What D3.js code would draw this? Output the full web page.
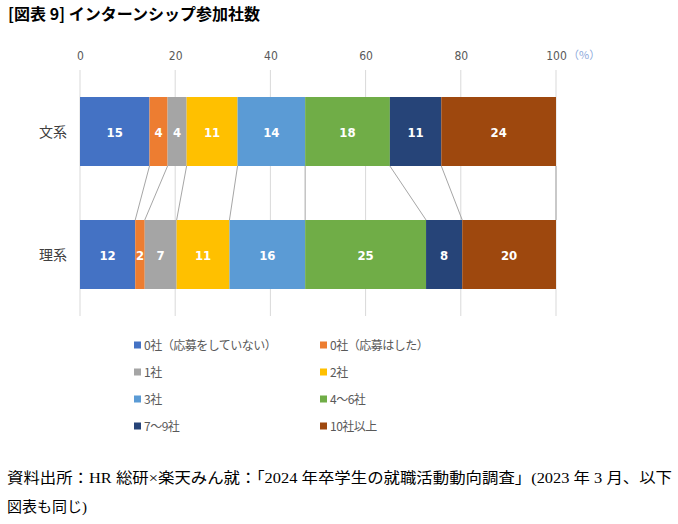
<!DOCTYPE html>
<html><head><meta charset="utf-8">
<script src="https://cdn.jsdelivr.net/npm/d3@7"></script>
<style>
body{margin:0;background:#fff;}
svg{display:block;}
</style></head>
<body>
<script>
const categories = ["文系", "理系"];
const seriesNames = ["0社（応募をしていない）", "0社（応募はした）", "1社", "2社", "3社", "4～6社", "7～9社", "10社以上"];
const bunkei = [14.6, 3.8, 4.0, 10.7, 14.2, 17.8, 10.8, 24.1];
const rikei = [11.6, 2.0, 6.7, 11.1, 15.9, 25.4, 7.6, 19.7];
const tickValues = [0, 20, 40, 60, 80, 100];
const colors = ["#4472C4", "#ED7D31", "#A5A5A5", "#FFC000", "#5B9BD5", "#70AD47", "#264478", "#9E480E"];

const W = 678, H = 524;
const svg = d3.select("body").append("svg").attr("width", W).attr("height", H);

const x = d3.scaleLinear().domain([0, 100]).range([80, 556]);
const y = d3.scaleBand().domain(categories).range([70, 316]).paddingInner(0.439).paddingOuter(0.2195);

const values = {"文系": bunkei, "理系": rikei};
const stacks = categories.map(c => {
  let acc = 0;
  return values[c].map((v, i) => { const s = {cat: c, i, v, x0: acc, x1: acc + v}; acc += v; return s; });
});

// title
svg.append("text").attr("x", 8).attr("y", 20)
  .attr("font-family", "'Noto Sans CJK JP', sans-serif").attr("font-weight", "bold")
  .attr("font-size", 16).attr("fill", "#000").text("[図表 9]  インターンシップ参加社数");

// gridlines
svg.append("g").selectAll("line").data(tickValues).join("line")
  .attr("x1", d => x(d)).attr("x2", d => x(d)).attr("y1", 70).attr("y2", 316)
  .attr("stroke", "#d9d9d9").attr("stroke-width", 1);

// tick labels (top axis)
const axis = d3.axisTop(x).tickValues(tickValues).tickSize(0).tickPadding(0);
const gAxis = svg.append("g").attr("transform", "translate(0,60)").call(axis);
gAxis.select(".domain").remove();
gAxis.selectAll("text").attr("font-family", "'Liberation Sans Narrow', 'DejaVu Sans Condensed', sans-serif")
  .attr("font-size", 12).attr("fill", "#595959");
svg.append("text").attr("x", 568).attr("y", 59).attr("font-family", "'Noto Sans CJK JP', sans-serif")
  .attr("font-size", 11).attr("fill", "#8EA9DB").text("（%）");

// connectors
const conn = d3.range(seriesNames.length).map(i => ({a: stacks[0][i].x1, b: stacks[1][i].x1}));
svg.append("g").selectAll("line").data(conn).join("line")
  .attr("x1", d => x(d.a)).attr("y1", y(categories[0]) + y.bandwidth())
  .attr("x2", d => x(d.b)).attr("y2", y(categories[1]))
  .attr("stroke", "#a6a6a6").attr("stroke-width", 1);

// bars
stacks.forEach(st => {
  const g = svg.append("g");
  g.selectAll("rect").data(st).join("rect")
    .attr("x", d => x(d.x0)).attr("width", d => x(d.x1) - x(d.x0))
    .attr("y", d => y(d.cat)).attr("height", y.bandwidth())
    .attr("fill", d => colors[d.i]);
  g.selectAll("text").data(st).join("text")
    .attr("x", d => (x(d.x0) + x(d.x1)) / 2).attr("y", d => y(d.cat) + y.bandwidth() / 2 + 5)
    .attr("text-anchor", "middle").attr("font-family", "'Liberation Sans Narrow', 'DejaVu Sans Condensed', sans-serif")
    .attr("font-weight", "bold").attr("font-size", 13).attr("fill", "#fff")
    .text(d => d3.format(".0f")(d.v));
});

// category labels
svg.append("g").selectAll("text").data(categories).join("text")
  .attr("x", 53).attr("y", d => y(d) + y.bandwidth() / 2 + 5).attr("text-anchor", "middle")
  .attr("font-family", "'Noto Sans CJK JP', sans-serif").attr("font-size", 14).attr("fill", "#404040")
  .text(d => d);

// legend
const lg = svg.append("g").selectAll("g").data(seriesNames).join("g")
  .attr("transform", (d, i) => `translate(${i % 2 === 0 ? 134 : 320},${345 + Math.floor(i / 2) * 27})`);
lg.append("rect").attr("x", 0).attr("y", -3.5).attr("width", 7).attr("height", 7).attr("fill", (d, i) => colors[i]);
lg.append("text").attr("x", 10).attr("y", 4.5)
  .attr("font-family", "'Noto Sans CJK JP', sans-serif").attr("font-size", 12).attr("fill", "#595959")
  .attr("letter-spacing", -0.5).text(d => d);

// footer
const foot = svg.append("text").attr("font-family", "'Liberation Serif', 'Noto Sans CJK JP', serif")
  .attr("font-size", 15).attr("fill", "#000");
foot.append("tspan").attr("x", 7).attr("y", 483).attr("textLength", 665).attr("lengthAdjust", "spacingAndGlyphs")
  .text("資料出所：HR 総研×楽天みん就：「2024 年卒学生の就職活動動向調査」(2023 年 3 月、以下");
foot.append("tspan").attr("x", 7).attr("y", 512).text("図表も同じ)");
</script>
</body></html>
